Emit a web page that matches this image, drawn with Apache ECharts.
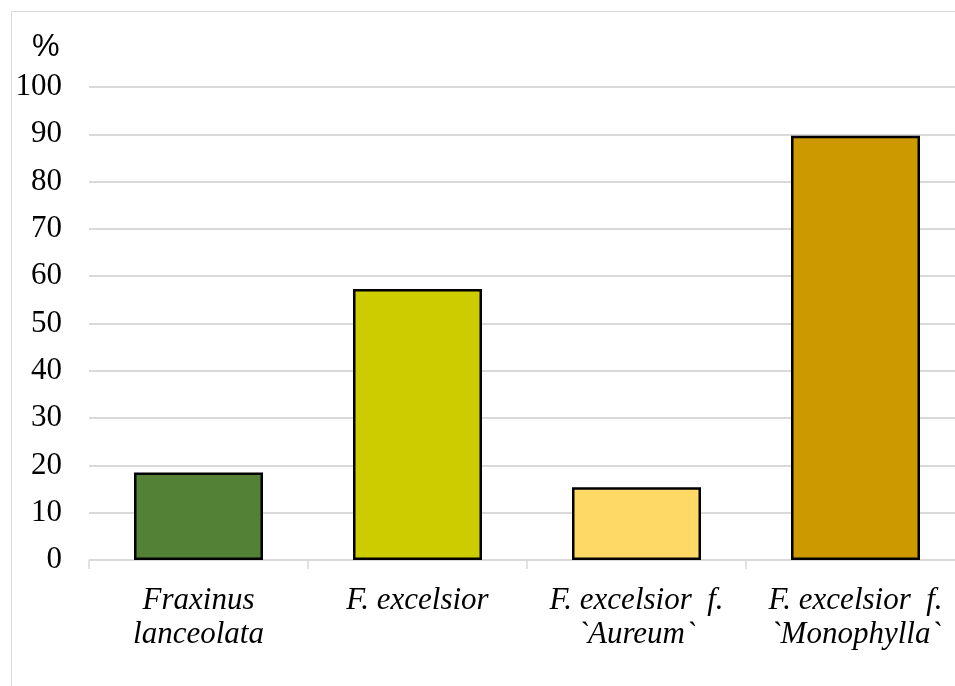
<!DOCTYPE html>
<html>
<head>
<meta charset="utf-8">
<script src="https://cdn.jsdelivr.net/npm/echarts@6/dist/echarts.min.js"></script>
<style>
  html, body { margin: 0; padding: 0; background: #fff; }
  #chart { width: 955px; height: 686px; }
</style>
</head>
<body>
<div id="chart"></div>
<script>
// 类别 / 数值
const categories = [
  'Fraxinus\nlanceolata',
  'F. excelsior',
  'F. excelsior  f.\n`Aureum`',
  'F. excelsior  f.\n`Monophylla`'
]
const values = [18.5, 57.3, 15.4, 89.7]
const barColors = ['#538135', '#cccc00', '#ffd966', '#cc9900']

const myChart = echarts.init(document.getElementById('chart'))

const option = {
  animation: false,
  backgroundColor: '#fff',
  graphic: [{
    // 外框
    type: 'rect',
    shape: { x: 11.5, y: 11.5, width: 1000, height: 1000 },
    style: { fill: 'none', stroke: '#d9d9d9', lineWidth: 1 },
    silent: true
  }, {
    type: 'text',
    left: 32,
    top: 32,
    style: {
      text: '%',
      font: '31px "Liberation Sans"',
      fill: '#000'
    }
  }],
  grid: {
    left: 89,
    right: -10,
    top: 87,
    bottom: 126,
    outerBoundsMode: 'none'
  },
  xAxis: {
    type: 'category',
    data: categories,
    axisLine: { lineStyle: { color: '#d9d9d9', width: 1.5 } },
    axisTick: { show: true, length: 9, lineStyle: { color: '#d9d9d9', width: 1.5 } },
    axisLabel: {
      interval: 0,
      margin: 24,
      color: '#000',
      fontFamily: 'Liberation Serif',
      fontStyle: 'italic',
      fontSize: 31,
      lineHeight: 34
    }
  },
  yAxis: {
    type: 'value',
    min: 0,
    max: 100,
    interval: 10,
    axisLine: { show: false },
    axisTick: { show: false },
    axisLabel: {
      margin: 27,
      color: '#000',
      fontFamily: 'Liberation Serif',
      fontSize: 31
    },
    splitLine: { lineStyle: { color: '#d9d9d9', width: 2 } }
  },
  series: [{
    type: 'bar',
    data: values.map((v, i) => ({
      value: v,
      itemStyle: { color: barColors[i] }
    })),
    barWidth: 129,
    itemStyle: { borderColor: '#000', borderWidth: 2.5 }
  }]
}

myChart.setOption(option)
</script>
</body>
</html>
